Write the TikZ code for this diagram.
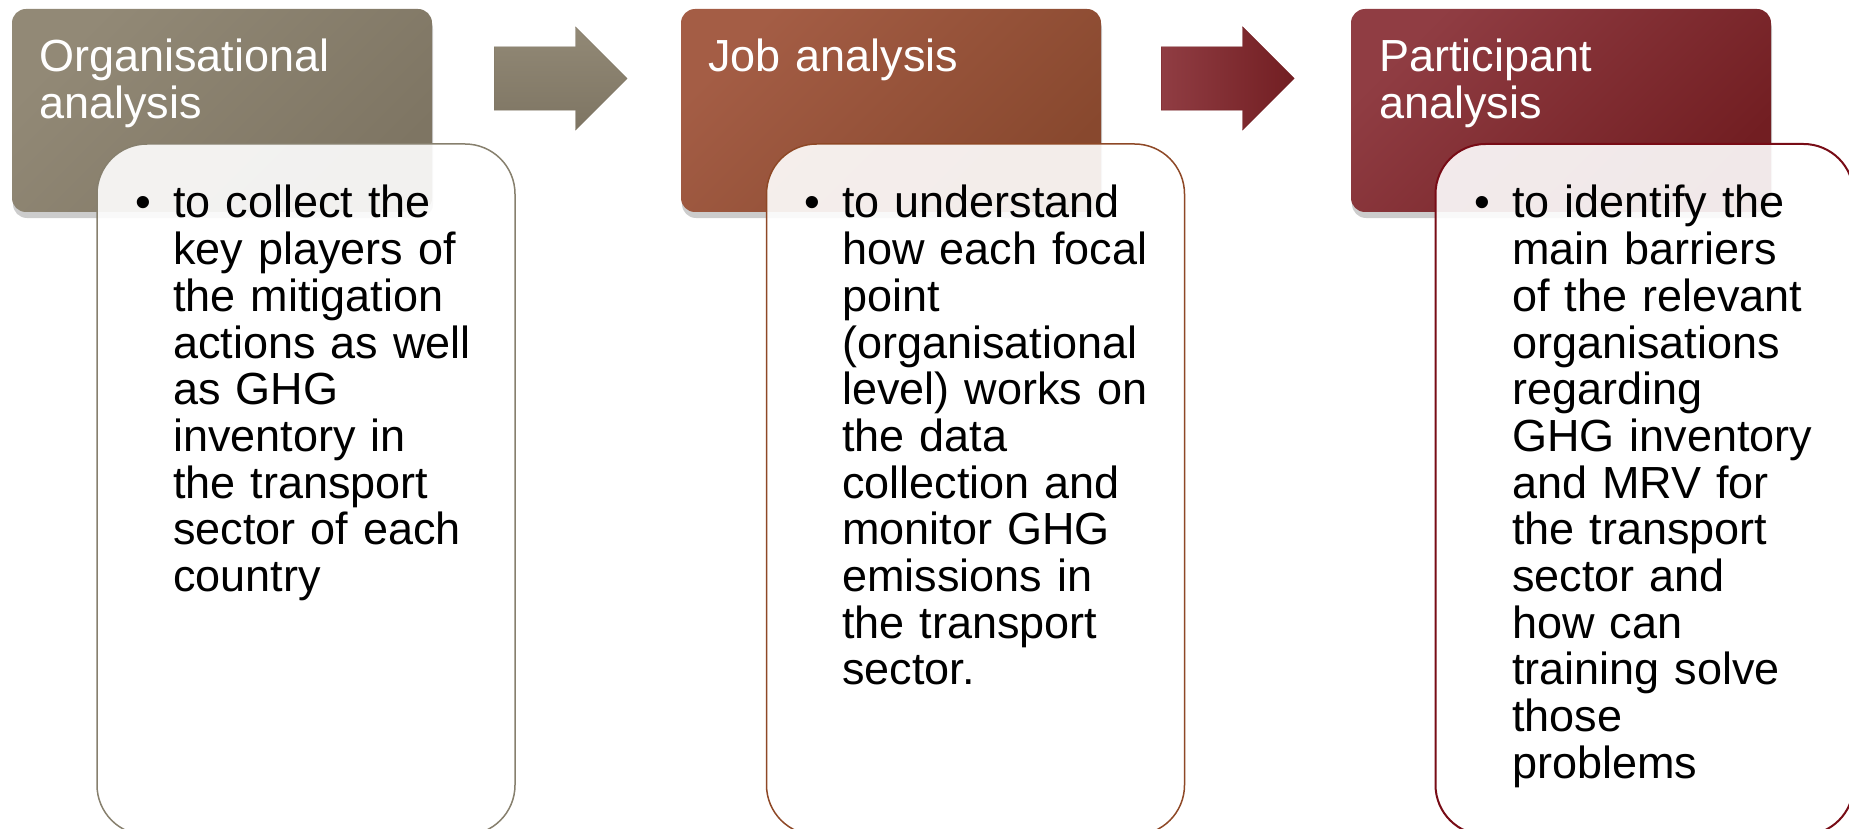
\documentclass[tikz,border=0pt]{standalone}
\usepackage{fontspec}
\setmainfont{Liberation Sans}
\usepackage{tikz}
\usetikzlibrary{calc,shapes.arrows,shadows}
\definecolor{orglight}{RGB}{146,137,118}
\definecolor{orgdark}{RGB}{126,117,99}
\definecolor{joblight}{RGB}{164,93,69}
\definecolor{jobdark}{RGB}{136,72,46}
\definecolor{partlight}{RGB}{144,61,67}
\definecolor{partdark}{RGB}{114,30,34}
\definecolor{orgline}{RGB}{135,128,110}
\definecolor{jobline}{RGB}{142,72,38}
\definecolor{partline}{RGB}{120,12,22}
\tikzset{
    headbox/.style={rounded corners=14pt,minimum width=420pt,minimum height=203pt,inner sep=0pt,
        drop shadow={shadow xshift=1pt,shadow yshift=-6pt,opacity=0.4}},
    headtext/.style={white,anchor=base west,inner sep=0pt,text width=380pt,align=left,font=\fontsize{45}{46.7}\selectfont},
    bodybox/.style={fill=white,fill opacity=0.9,rounded corners=50pt,minimum width=418pt,minimum height=691pt,line width=1.5pt},
    bodytext/.style={black,anchor=base west,inner sep=0pt,text width=400pt,align=left,font=\fontsize{45}{46.7}\selectfont},
    blockarrow/.style={single arrow,single arrow head extend=20pt,minimum height=133pt,inner xsep=0pt,inner ysep=31.5pt,anchor=tail}
}
\newcommand{\bodybullet}{\leavevmode\llap{\textbullet\hspace{22pt}}}

\begin{document}
\begin{tikzpicture}[x=1pt,y=-1pt]
\useasboundingbox (0,0) rectangle (1849,829);
\clip (0,0) rectangle (1849,829);
% headers
\node[headbox,top color=orglight,bottom color=orgdark,shading angle=45] (org) at (222,110.5) {};
\node[headbox,top color=joblight,bottom color=jobdark,shading angle=45] (job) at (891,110.5) {};
\node[headbox,top color=partlight,bottom color=partdark,shading angle=45] (part) at (1561,110.5) {};
\node[blockarrow,top color=orglight,bottom color=orgdark,draw=orgdark,thin] (arr1) at (494,78.5) {};
\node[blockarrow,left color=partlight,right color=partdark,draw=partdark,thin] (arr2) at (1161,78.5) {};
\node[headtext] (orgtitle) at (39,72) {Organisational\\analysis};
\node[headtext] (jobtitle) at (708,72) {Job analysis};
\node[headtext] (parttitle) at (1379,72) {Participant\\analysis};
% bodies
\node[bodybox,draw=orgline] (orgbody) at (306,489.5) {};
\node[bodybox,draw=jobline] (jobbody) at (975.5,489.5) {};
\node[bodybox,draw=partline,line width=2pt] (partbody) at (1644.5,489.5) {};
\node[bodytext] (orgitem) at (173,218) {\bodybullet to collect the\\key players of\\the mitigation\\actions as well\\as GHG\\inventory in\\the transport\\sector of each\\country};
\node[bodytext] (jobitem) at (842,218) {\bodybullet to understand\\how each focal\\point\\(organisational\\level) works on\\the data\\collection and\\monitor GHG\\emissions in\\the transport\\sector.};
\node[bodytext] (partitem) at (1512,218) {\bodybullet to identify the\\main barriers\\of the relevant\\organisations\\regarding\\GHG inventory\\and MRV for\\the transport\\sector and\\how can\\training solve\\those\\problems};
\end{tikzpicture}
\end{document}
